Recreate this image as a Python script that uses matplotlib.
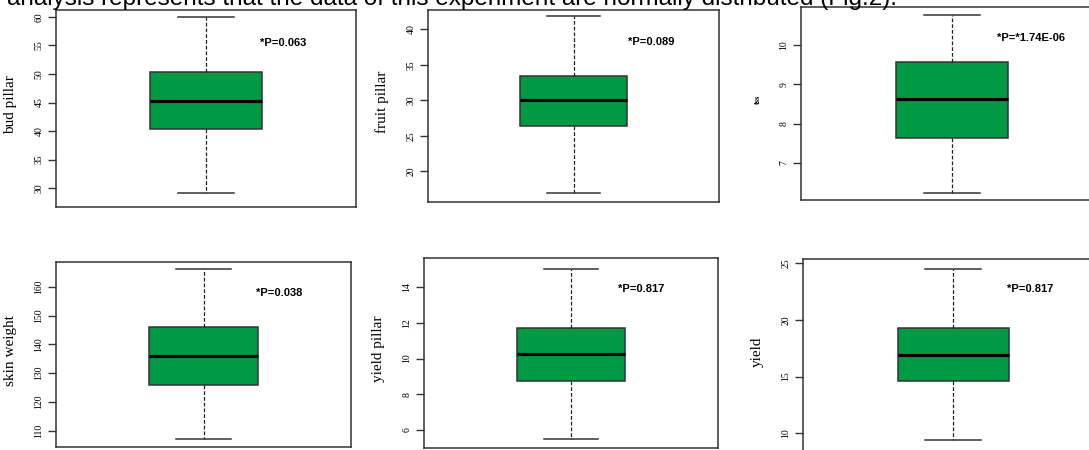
import matplotlib
matplotlib.use("Agg")
import matplotlib.pyplot as plt

# values (whisker low, q1, median, q3, whisker high)
names = ["bud pillar", "fruit pillar", "tss", "skin weight", "yield pillar", "yield"]
lows = [29.1, 17.0, 6.23, 107.1, 5.5, 9.4]
q1s = [40.3, 26.4, 7.64, 125.9, 8.76, 14.6]
meds = [45.3, 30.0, 8.63, 136.0, 10.24, 16.9]
q3s = [50.4, 33.4, 9.57, 146.1, 11.73, 19.26]
highs = [60.0, 41.8, 10.77, 166.1, 15.03, 24.5]
pvals = ["*P=0.063", "*P=0.089", "*P=*1.74E-06", "*P=0.038", "*P=0.817", "*P=0.817"]
yticks = [[30, 35, 40, 45, 50, 55, 60],
          [20, 25, 30, 35, 40],
          [7, 8, 9, 10],
          [110, 120, 130, 140, 150, 160],
          [6, 8, 10, 12, 14],
          [10, 15, 20, 25]]

caption = "analysis represents that the data of this experiment are normally distributed (Fig.2)."

W, H = 1089, 450
# axes boxes in pixels: left, top, right, bottom
boxes = [(56, 10, 356, 207), (428, 10, 719, 202), (801, 7, 1103, 200),
         (56, 262, 351, 447), (424, 258, 718, 448), (803, 259, 1103, 453)]
ylims = [(26.7, 61.2), (15.7, 42.7), (6.06, 10.97),
         (104.3, 168.6), (4.99, 15.64), (8.25, 25.38)]
ptext_x = [0.758, 0.768, 0.763, 0.756, 0.74, 0.758]
ptext_y = [0.832, 0.833, 0.84, 0.832, 0.837, 0.845]

green = "#009a44"
edge = "#333333"

fig = plt.figure(figsize=(W / 100, H / 100), dpi=100)
fig.patch.set_facecolor("white")

fig.text(7 / W, 1 - 5 / H, caption, fontsize=17.5, family=["Liberation Sans", "DejaVu Sans"],
         va="baseline", ha="left", color="black")

for i in range(6):
    l, t, r, b = boxes[i]
    ax = fig.add_axes([l / W, 1 - b / H, (r - l) / W, (b - t) / H])
    stats = [{"whislo": lows[i], "q1": q1s[i], "med": meds[i], "q3": q3s[i],
              "whishi": highs[i], "fliers": []}]
    ax.bxp(stats, positions=[1], widths=0.37, capwidths=0.185, patch_artist=True,
           showfliers=False,
           boxprops=dict(facecolor=green, edgecolor=edge, linewidth=1.1),
           medianprops=dict(color="black", linewidth=2.3),
           whiskerprops=dict(color="#222222", linewidth=0.9, linestyle=(0, (3, 1.6))),
           capprops=dict(color=edge, linewidth=1.1))
    ax.set_xlim(0.5, 1.5)
    ax.set_ylim(*ylims[i])
    ax.set_xticks([])
    ax.set_yticks(yticks[i])
    ax.set_yticklabels([str(v) for v in yticks[i]], rotation=90, va="center",
                       fontsize=7, family=["Liberation Serif", "DejaVu Serif"])
    ax.tick_params(axis="y", length=6, width=1.0, color=edge, pad=3)
    for s in ax.spines.values():
        s.set_color(edge)
        s.set_linewidth(1.1)
    lsize = 6 if names[i] == "tss" else 11
    ax.set_ylabel(names[i], fontsize=lsize, family=["Liberation Serif", "DejaVu Serif"],
                  fontweight="bold" if names[i] == "tss" else "normal")
    ax.yaxis.set_label_coords(-39 / (r - l), 0.52)
    ax.text(ptext_x[i], ptext_y[i], pvals[i], transform=ax.transAxes, ha="center",
            va="center", fontsize=8, fontweight="bold",
            family=["Liberation Sans", "DejaVu Sans"])

fig.savefig("out.png", dpi=100)
